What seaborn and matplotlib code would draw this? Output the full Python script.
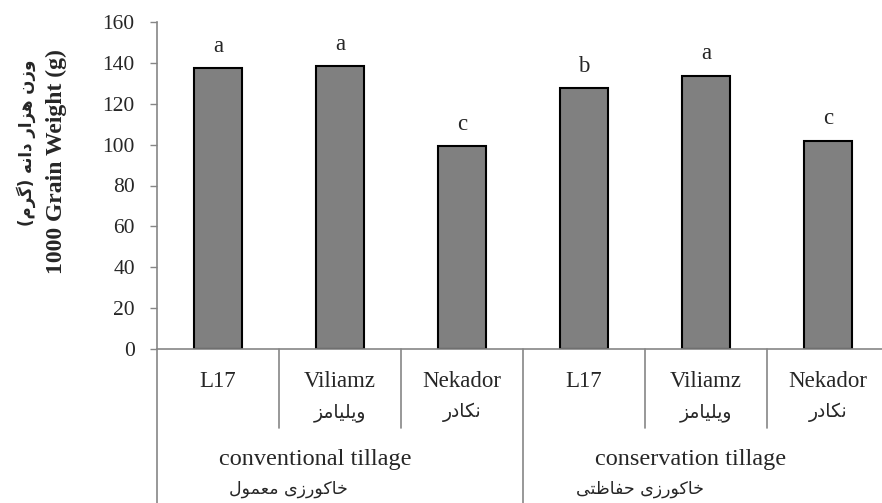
import pandas as pd
import seaborn as sns
import matplotlib.pyplot as plt

# data
groups = ['conventional tillage', 'conservation tillage']
groups_fa = ['خاکورزی معمول', 'خاکورزی حفاظتی']
cultivars = ['L17', 'Viliamz', 'Nekador']
cultivars_fa = ['', 'ویلیامز', 'نکادر']
weight_conventional = [137.5, 138.5, 99.2]
weight_conservation = [127.7, 133.7, 102.0]
letters_conventional = ['a', 'a', 'c']
letters_conservation = ['b', 'a', 'c']
yticks = [0, 20, 40, 60, 80, 100, 120, 140, 160]

# matplotlib has no Arabic shaping, so pick presentation forms and reverse
FORMS = {
    'ا': ('\uFE8D', '\uFE8E', None, None),
    'د': ('\uFEA9', '\uFEAA', None, None),
    'ر': ('\uFEAD', '\uFEAE', None, None),
    'ز': ('\uFEAF', '\uFEB0', None, None),
    'و': ('\uFEED', '\uFEEE', None, None),
    'ت': ('\uFE95', '\uFE96', '\uFE97', '\uFE98'),
    'ح': ('\uFEA1', '\uFEA2', '\uFEA3', '\uFEA4'),
    'خ': ('\uFEA5', '\uFEA6', '\uFEA7', '\uFEA8'),
    'ظ': ('\uFEC5', '\uFEC6', '\uFEC7', '\uFEC8'),
    'ع': ('\uFEC9', '\uFECA', '\uFECB', '\uFECC'),
    'ف': ('\uFED1', '\uFED2', '\uFED3', '\uFED4'),
    'ل': ('\uFEDD', '\uFEDE', '\uFEDF', '\uFEE0'),
    'م': ('\uFEE1', '\uFEE2', '\uFEE3', '\uFEE4'),
    'ن': ('\uFEE5', '\uFEE6', '\uFEE7', '\uFEE8'),
    'ه': ('\uFEE9', '\uFEEA', '\uFEEB', '\uFEEC'),
    '\u06CC': ('\uFBFC', '\uFBFD', '\uFBFE', '\uFBFF'),
    '\u06A9': ('\uFB8E', '\uFB8F', '\uFB90', '\uFB91'),
    '\u06AF': ('\uFB92', '\uFB93', '\uFB94', '\uFB95'),
}


def fa(text):
    text = text.replace('\u064A', '\u06CC').replace('\u0643', '\u06A9')
    out = []
    for i, ch in enumerate(text):
        if ch not in FORMS:
            out.append(ch)
            continue
        prev = text[i - 1] if i > 0 else ''
        nxt = text[i + 1] if i + 1 < len(text) else ''
        jp = prev in FORMS and FORMS[prev][2] is not None
        jn = nxt in FORMS and FORMS[ch][2] is not None
        f = FORMS[ch]
        if jp and jn:
            out.append(f[3])
        elif jp:
            out.append(f[1])
        elif jn:
            out.append(f[2])
        else:
            out.append(f[0])
    vis = ''.join(out)[::-1]
    return vis.translate(str.maketrans('()', ')('))


rows = []
for g, vals in zip(groups, [weight_conventional, weight_conservation]):
    for c, v in zip(cultivars, vals):
        rows.append({'key': g + '|' + c, 'weight': v})
df = pd.DataFrame(rows)
letters = letters_conventional + letters_conservation

sns.set_style('white')
plt.rcParams['font.family'] = ['Liberation Serif', 'DejaVu Sans']
FA_FONT = ['DejaVu Sans']

fig = plt.figure(figsize=(8.82, 5.03), dpi=100)
ax = fig.add_axes([157 / 882, 1 - 349 / 503, 732 / 882, 327 / 503])

sns.barplot(data=df, x='key', y='weight', color='#808080', saturation=1,
            edgecolor='black', linewidth=1.5, width=0.4, errorbar=None, ax=ax)

ax.set_xlim(-0.5, 5.5)
ax.set_ylim(0, 160)
ax.set_yticks(yticks)
ax.set_yticklabels([str(t) for t in yticks], fontsize=15.5)
ax.tick_params(axis='y', length=5, width=1, color='#868686', direction='out', pad=11, left=True)
ax.set_xticks([])
ax.set_xlabel('')
ax.set_ylabel('')
for s in ['top', 'right']:
    ax.spines[s].set_visible(False)
for s in ['left', 'bottom']:
    ax.spines[s].set_color('#868686')
    ax.spines[s].set_linewidth(1.2)

# significance letters
for i, (v, l) in enumerate(zip(df['weight'], letters)):
    ax.text(i, v + 8, l, ha='center', va='baseline', fontsize=16.5)

# category table under the axis
trans = ax.get_xaxis_transform()
for b in [0.5, 1.5, 3.5, 4.5]:
    ax.plot([b, b], [0, -0.242], transform=trans, color='#868686', lw=1.2, clip_on=False)
for b in [-0.5, 2.5]:
    ax.plot([b, b], [0, -0.48], transform=trans, color='#868686', lw=1.2, clip_on=False)

for gi in range(len(groups)):
    for ci, (c, cf) in enumerate(zip(cultivars, cultivars_fa)):
        x = gi * 3 + ci
        ax.text(x, -0.098, c, transform=trans, ha='center', va='center', fontsize=16.5)
        if cf:
            ax.text(x, -0.193, fa(cf), transform=trans, ha='center', va='center',
                    fontsize=13.5, family=FA_FONT)

group_x = [0.795, 3.87]
group_fa_x = [0.574, 3.46]
for g, gf, gx, gfx in zip(groups, groups_fa, group_x, group_fa_x):
    ax.text(gx, -0.339, g, transform=trans, ha='center', va='center', fontsize=17.5)
    ax.text(gfx, -0.428, fa(gf), transform=trans, ha='center', va='center',
            fontsize=12.5, family=FA_FONT)

# y-axis title, English and Persian
fig.text(56 / 882, 1 - 162 / 503, '1000 Grain Weight (g)', rotation=90, ha='center',
         va='center', fontsize=17, fontweight='bold')
fig.text(26 / 882, 1 - 143 / 503, fa('وزن هزار دانه (گرم)'), rotation=90, ha='center',
         va='center', fontsize=12, fontweight='bold', family=FA_FONT)

plt.savefig('out.png', dpi=100)
